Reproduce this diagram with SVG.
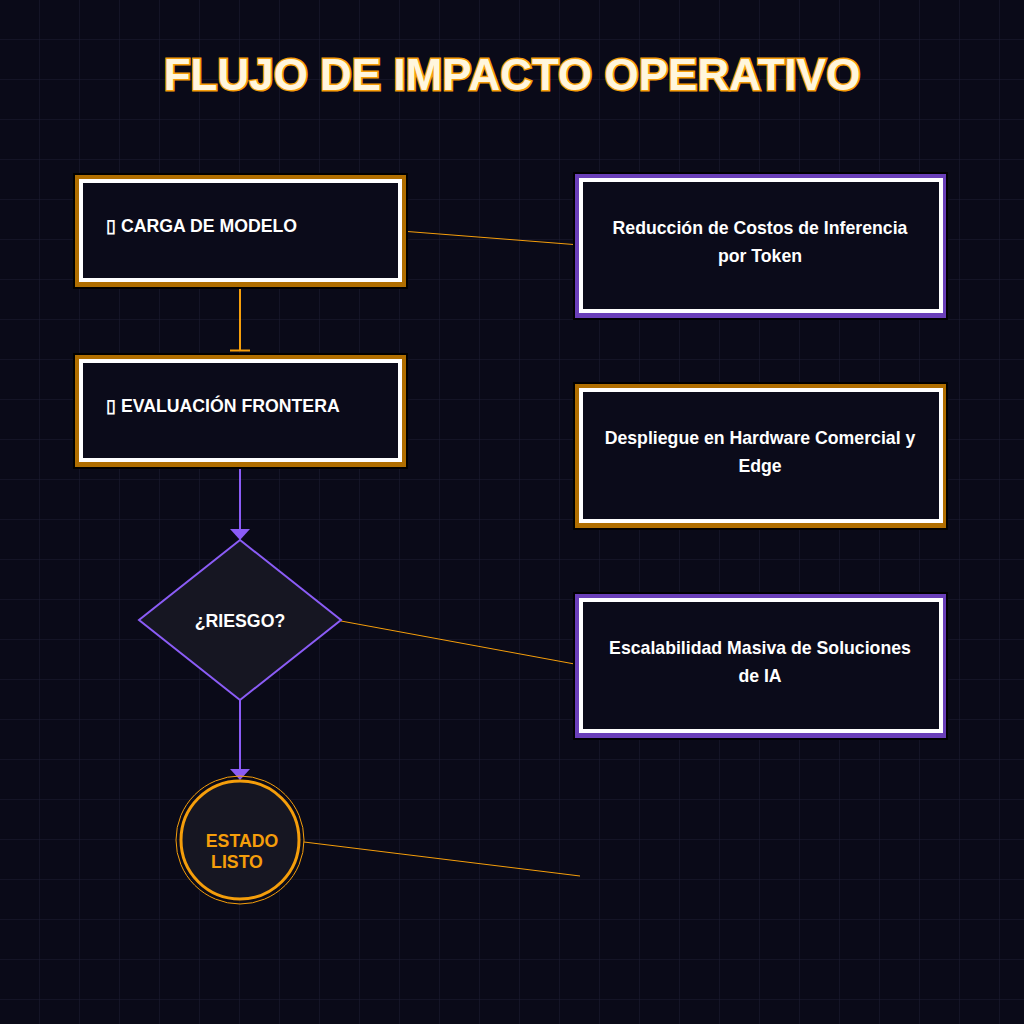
<svg xmlns="http://www.w3.org/2000/svg" width="1024" height="1024" viewBox="0 0 1024 1024">
<defs>
<pattern id="grid" width="40" height="40" patternUnits="userSpaceOnUse"><path d="M40 0V40M0 40H40" fill="none" stroke="#1d1d34" stroke-width="1"/></pattern>
<style>
.ob{fill:none;stroke:#000;stroke-width:4}
.og{fill:none;stroke:#b06e00;stroke-width:6}
.pg{fill:none;stroke:#6a3fb8;stroke-width:6}
.in{fill:#0b0b1a;stroke:#fff;stroke-width:4}
.t{font-family:"Liberation Sans",Arial,sans-serif;font-weight:bold;fill:#fff;font-size:17.7px}
.c{text-anchor:middle}
.thin{stroke:#f59e0b;stroke-width:1;fill:none}
</style>
</defs>
<rect width="1024" height="1024" fill="#0a0a18"/>
<rect width="1024" height="1024" fill="url(#grid)"/>
<text x="512" y="90" text-anchor="middle" font-family="Liberation Sans,Arial,sans-serif" font-weight="bold" font-size="44" fill="#fff6dd" stroke="#f59e0b" stroke-width="3" paint-order="stroke">FLUJO DE IMPACTO OPERATIVO</text>
<g id="connectors">
<line x1="401" y1="231" x2="580" y2="245" class="thin"/>
<line x1="341" y1="621" x2="580" y2="665" class="thin"/>
<line x1="304" y1="842" x2="580" y2="876" class="thin"/>
<line x1="240" y1="283" x2="240" y2="350" stroke="#f59e0b" stroke-width="2"/>
<line x1="230" y1="350.5" x2="250" y2="350.5" stroke="#f59e0b" stroke-width="2"/>
<line x1="240" y1="460" x2="240" y2="530" stroke="#8b5cf6" stroke-width="2"/>
<path d="M230 529L250 529L240 540Z" fill="#8b5cf6"/>
<line x1="240" y1="700" x2="240" y2="770" stroke="#8b5cf6" stroke-width="2"/>
<path d="M230 769L250 769L240 780Z" fill="#8b5cf6"/>
</g>
<g id="carga">
<rect x="75" y="175" width="331" height="112" class="ob"/>
<rect x="78" y="178" width="325" height="106" class="og"/>
<rect x="81" y="181" width="319" height="99" class="in"/>
<text x="106" y="232" class="t">▯ CARGA DE MODELO</text>
</g>
<g id="evaluacion">
<rect x="75" y="355" width="331" height="112" class="ob"/>
<rect x="78" y="358" width="325" height="106" class="og"/>
<rect x="81" y="361" width="319" height="99" class="in"/>
<text x="106" y="412" class="t">▯ EVALUACIÓN FRONTERA</text>
</g>
<g id="riesgo">
<path d="M240 540L341 620L240 700L139 620Z" fill="#161622" stroke="#8b5cf6" stroke-width="2"/>
<text x="240" y="627" class="t c">¿RIESGO?</text>
</g>
<g id="estado">
<circle cx="240" cy="840" r="64" fill="none" stroke="#f59e0b" stroke-width="1"/>
<circle cx="240" cy="840" r="59" fill="#161622" stroke="#f59e0b" stroke-width="3"/>
<text x="242" y="847" class="t c" style="fill:#f59e0b">ESTADO</text>
<text x="237" y="868" class="t c" style="fill:#f59e0b">LISTO</text>
</g>
<g id="reduccion">
<rect x="575" y="174" width="371" height="144" class="ob"/>
<rect x="578" y="177" width="365" height="138" class="pg"/>
<rect x="581" y="180" width="360" height="131" class="in"/>
<text x="760" y="234" class="t c">Reducción de Costos de Inferencia</text>
<text x="760" y="262" class="t c">por Token</text>
</g>
<g id="despliegue">
<rect x="575" y="384" width="371" height="144" class="ob"/>
<rect x="578" y="387" width="365" height="138" class="og"/>
<rect x="581" y="390" width="360" height="131" class="in"/>
<text x="760" y="444" class="t c">Despliegue en Hardware Comercial y</text>
<text x="760" y="472" class="t c">Edge</text>
</g>
<g id="escalabilidad">
<rect x="575" y="594" width="371" height="144" class="ob"/>
<rect x="578" y="597" width="365" height="138" class="pg"/>
<rect x="581" y="600" width="360" height="131" class="in"/>
<text x="760" y="654" class="t c">Escalabilidad Masiva de Soluciones</text>
<text x="760" y="682" class="t c">de IA</text>
</g>
</svg>
